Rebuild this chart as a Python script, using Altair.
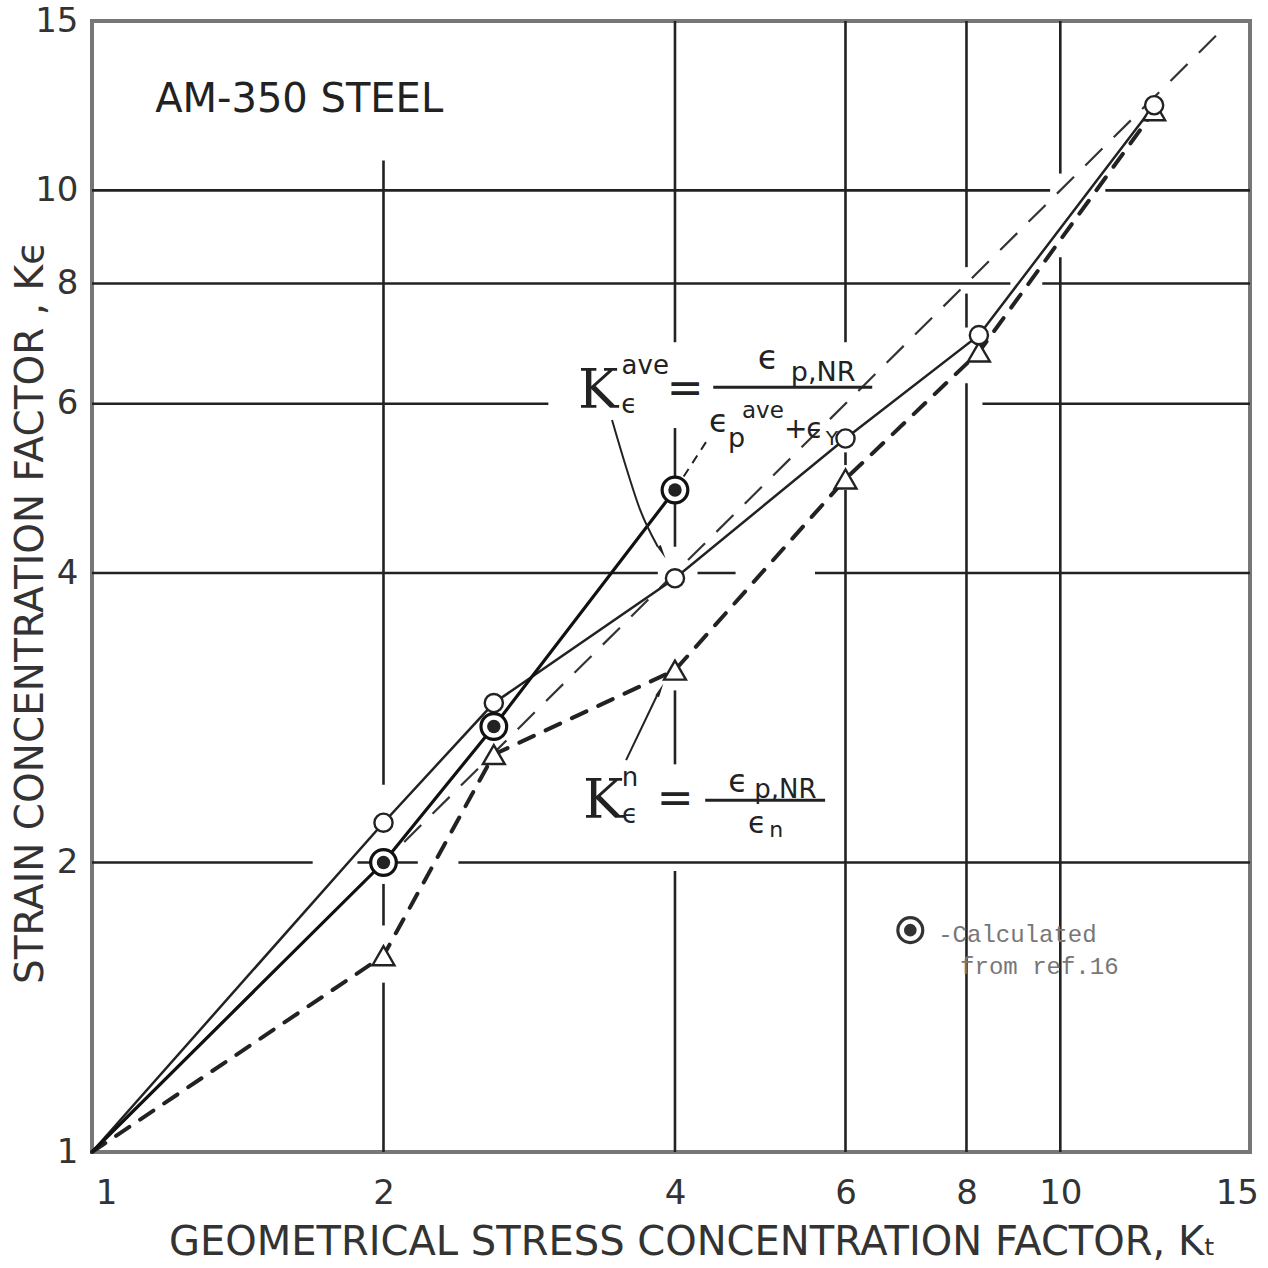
import altair as alt
import pandas as pd

# ---------------- data ----------------
kt_ave = [1.0, 2.0, 2.6, 4.0, 6.0, 8.24, 12.5]
ke_ave = [1.0, 2.20, 2.93, 3.95, 5.52, 7.07, 12.26]

kt_calc = [1.0, 2.0, 2.6, 4.0]
ke_calc = [1.0, 2.00, 2.77, 4.88]

kt_n = [1.0, 2.0, 2.6, 4.0, 6.0, 8.24, 12.5]
ke_n = [1.0, 1.60, 2.59, 3.17, 5.01, 6.79, 12.1]

diag_kt = [1.0, 14.5]
diag_ke = [1.0, 14.5]

tick_values = [1, 2, 4, 6, 8, 10, 15]

# hand-drawn grid: pieces of each grid line (data units)
vgrid_at = [2, 2, 2, 4, 4, 4, 4, 6, 6, 6, 8, 8, 8, 10, 10]
vgrid_from = [1, 1.72, 2.41, 1, 2.53, 4.26, 6.95, 1, 5.18, 6.95, 1, 7.20, 8.32, 1, 10.41]
vgrid_to = [1.50, 1.90, 10.74, 1.96, 3.02, 5.66, 15, 4.88, 5.34, 15, 6.30, 7.81, 15, 8.52, 15]

hgrid_at = [2, 2, 2, 4, 4, 4, 6, 6, 8, 8, 10, 10]
hgrid_from = [1, 1.88, 2.39, 1, 4.22, 5.58, 1, 8.31, 1, 9.58, 1, 11.13]
hgrid_to = [1.69, 2.17, 15.7, 3.84, 4.62, 15.7, 2.96, 15.7, 8.88, 15.7, 9.76, 15.7]

# arrows / leader (data units)
arrow_ave_kt = [3.444, 3.569, 3.683, 3.84]
arrow_ave_ke = [5.77, 5.116, 4.649, 4.26]
arrow_n_kt = [3.561, 3.835]
arrow_n_ke = [2.556, 2.987]
leader_kt = [4.0, 4.32]
leader_ke = [4.88, 5.50]

# ---------------- scales / axes ----------------
xs = alt.Scale(type="log", domain=[1, 15.7], nice=False)
ys = alt.Scale(type="log", domain=[1, 15], nice=False)
INK = "#222"
FONT = "DejaVu Sans"
X_TITLE = "GEOMETRICAL STRESS CONCENTRATION FACTOR, Kₜ"
Y_TITLE = "STRAIN CONCENTRATION FACTOR , Kϵ"

x_axis = alt.Axis(
    values=tick_values, format="d", grid=False, ticks=False, domain=False,
    labelFont=FONT, labelFontSize=34, labelColor="#333", labelPadding=24,
    labelOverlap=False, labelFlush=False,
    labelOffset={"condition": [{"test": "datum.value == 1", "value": 14},
                               {"test": "datum.value == 15", "value": 6}], "value": 0},
    title=X_TITLE,
    titleFont=FONT, titleFontSize=40, titleFontWeight="normal", titleColor="#333",
    titleX=600, titleY=90, titleAlign="center", titleBaseline="middle",
)
y_axis = alt.Axis(
    values=tick_values, format="d", grid=False, ticks=False, domain=False,
    labelFont=FONT, labelFontSize=34, labelColor="#333", labelPadding=14,
    labelOverlap=False, labelFlush=False,
    title=Y_TITLE,
    titleFont=FONT, titleFontSize=39, titleFontWeight="normal", titleColor="#333",
    titleX=-62, titleY=591, titleAlign="center", titleBaseline="middle", titleAngle=270,
)

one = pd.DataFrame({"_": [0]})


def X(v):
    return alt.XDatum(v, scale=xs)


def Y(v):
    return alt.YDatum(v, scale=ys)


def txt(s, x, y, size, font=FONT, color=INK, align="center", baseline="middle"):
    return alt.Chart(one).mark_text(
        text=s, font=font, fontSize=size, color=color, align=align, baseline=baseline
    ).encode(x=X(x), y=Y(y))


def frac_line(x1, x2, y):
    return alt.Chart(one).mark_rule(color=INK, strokeWidth=3).encode(
        x=X(x1), x2=alt.X2Datum(x2), y=Y(y))


def enc():
    return dict(x=alt.X("kt:Q", scale=xs), y=alt.Y("ke:Q", scale=ys))


# ---------------- lines ----------------
df_ave = pd.DataFrame({"kt": kt_ave, "ke": ke_ave})
df_calc = pd.DataFrame({"kt": kt_calc, "ke": ke_calc})
df_n = pd.DataFrame({"kt": kt_n, "ke": ke_n})
df_diag = pd.DataFrame({"kt": diag_kt, "ke": diag_ke})

diag = alt.Chart(df_diag).mark_line(color="#333", strokeWidth=2.2, strokeDash=[24, 16]).encode(
    x=alt.X("kt:Q", scale=xs, axis=x_axis, title=X_TITLE),
    y=alt.Y("ke:Q", scale=ys, axis=y_axis, title=Y_TITLE))

# ---------------- grid ----------------
vgrid = alt.Chart(pd.DataFrame({"kt": vgrid_at, "ke": vgrid_from, "ke2": vgrid_to})).mark_rule(
    color=INK, strokeWidth=2.6).encode(
    x=alt.X("kt:Q", scale=xs), y=alt.Y("ke:Q", scale=ys), y2="ke2:Q")
hgrid = alt.Chart(pd.DataFrame({"ke": hgrid_at, "kt": hgrid_from, "kt2": hgrid_to})).mark_rule(
    color=INK, strokeWidth=2.6).encode(
    y=alt.Y("ke:Q", scale=ys), x=alt.X("kt:Q", scale=xs), x2="kt2:Q")

line_ave = alt.Chart(df_ave).mark_line(color=INK, strokeWidth=2.5).encode(**enc())
line_calc = alt.Chart(df_calc).mark_line(color="#111", strokeWidth=3.2).encode(**enc())
line_n = alt.Chart(df_n).mark_line(color=INK, strokeWidth=4, strokeDash=[16, 13],
                                   strokeCap="round").encode(**enc())

pts_ave = alt.Chart(df_ave).transform_filter("datum.kt > 1").mark_point(
    shape="circle", size=330, filled=True, color="white", stroke=INK, strokeWidth=2.4,
    opacity=1).encode(**enc())
pts_n = alt.Chart(df_n).transform_filter("datum.kt > 1").mark_point(
    shape="triangle-up", size=480, filled=True, color="white", stroke=INK, strokeWidth=2.4,
    opacity=1).encode(**enc())
pts_calc_o = alt.Chart(df_calc).transform_filter("datum.kt > 1").mark_point(
    shape="circle", size=660, filled=True, color="white", stroke="#111", strokeWidth=3.2,
    opacity=1).encode(**enc())
pts_calc_i = alt.Chart(df_calc).transform_filter("datum.kt > 1").mark_point(
    shape="circle", size=180, filled=True, color="#222", strokeWidth=0,
    opacity=1).encode(**enc())

# ---------------- arrows ----------------
arr_ave = alt.Chart(pd.DataFrame({"kt": arrow_ave_kt, "ke": arrow_ave_ke})).mark_line(
    color=INK, strokeWidth=2, interpolate="monotone").encode(**enc())
arr_n = alt.Chart(pd.DataFrame({"kt": arrow_n_kt, "ke": arrow_n_ke})).mark_line(
    color=INK, strokeWidth=2).encode(**enc())
head_ave = alt.Chart(one).mark_point(shape="wedge", angle=152, size=260, filled=True,
                                     color=INK, opacity=1).encode(x=X(3.871), y=Y(4.225))
head_n = alt.Chart(one).mark_point(shape="wedge", angle=26, size=260, filled=True,
                                   color=INK, opacity=1).encode(x=X(3.853), y=Y(3.008))
leader = alt.Chart(pd.DataFrame({"kt": leader_kt, "ke": leader_ke})).mark_line(
    color=INK, strokeWidth=2, strokeDash=[9, 7]).encode(**enc())

# ---------------- texts ----------------
SERIF = "DejaVu Serif"
texts = [
    txt("AM-350 STEEL", 1.162, 12.41, 40, align="left"),
    # K_eps^ave = eps_p,NR / (eps_p^ave + eps_Y)
    txt("K", 3.332, 6.166, 54, font=SERIF),
    txt("ave", 3.727, 6.56, 26),
    txt("ϵ", 3.587, 5.976, 26),
    txt("=", 4.099, 6.196, 44),
    frac_line(4.381, 6.394, 6.24),
    txt("ϵ", 4.993, 6.674, 34),
    txt("p,NR", 5.69, 6.45, 27),
    txt("ϵ", 4.44, 5.74, 32),
    txt("p", 4.63, 5.52, 27),
    txt("ave", 4.93, 5.90, 23),
    txt("+", 5.33, 5.63, 28),
    txt("ϵ", 5.58, 5.63, 28),
    txt("Y", 5.81, 5.52, 20),
    # K_eps^n = eps_p,NR / eps_n
    txt("K", 3.372, 2.311, 54, font=SERIF),
    txt("n", 3.595, 2.448, 26),
    txt("ϵ", 3.595, 2.240, 26),
    txt("=", 4.003, 2.322, 44),
    frac_line(4.298, 5.716, 2.322),
    txt("ϵ", 4.649, 2.425, 32),
    txt("p,NR", 5.20, 2.378, 26),
    txt("ϵ", 4.864, 2.193, 30),
    txt("n", 5.09, 2.161, 22),
    # legend
    txt("-Calculated", 7.48, 1.681, 24, font="Liberation Mono", color="#777", align="left"),
    txt("from ref.16", 7.88, 1.557, 24, font="Liberation Mono", color="#777", align="left"),
]

leg_o = alt.Chart(one).mark_point(shape="circle", size=620, filled=True, color="white",
                                  stroke="#333", strokeWidth=3.2, opacity=1).encode(
    x=X(7.0), y=Y(1.701))
leg_i = alt.Chart(one).mark_point(shape="circle", size=160, filled=True, color="#333",
                                  strokeWidth=0, opacity=1).encode(x=X(7.0), y=Y(1.701))

chart = alt.layer(
    diag, vgrid, hgrid, line_n, line_ave, line_calc, leader, arr_ave, arr_n, head_ave, head_n,
    pts_n, pts_ave, pts_calc_o, pts_calc_i, leg_o, leg_i, *texts
).properties(
    width=1158, height=1131,
    autosize=alt.AutoSizeParams(type="none"),
    padding={"left": 92, "top": 21, "right": 18, "bottom": 116},
).configure_view(stroke="#777", strokeWidth=4)

chart.save("out.html", embed_options={"renderer": "svg", "actions": False})
